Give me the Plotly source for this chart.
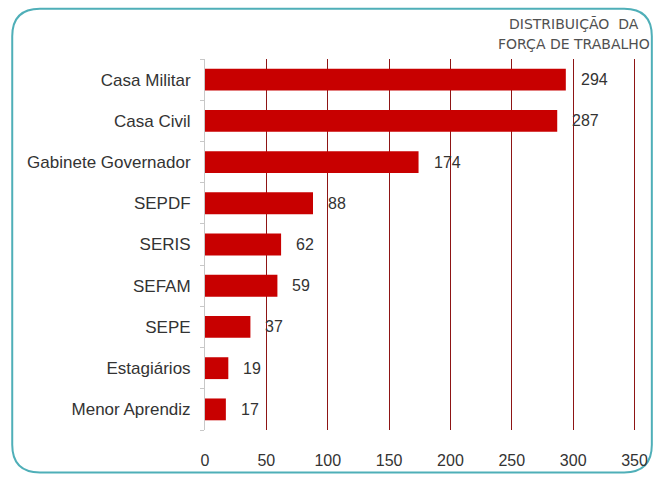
import plotly.graph_objects as go

categories = ["Casa Militar", "Casa Civil", "Gabinete Governador", "SEPDF", "SERIS",
              "SEFAM", "SEPE", "Estagiários", "Menor Aprendiz"]
values = [294, 287, 174, 88, 62, 59, 37, 19, 17]
x_ticks = [0, 50, 100, 150, 200, 250, 300, 350]
title_lines = ["DISTRIBUIÇÃO  DA", "FORÇA DE TRABALHO"]

W, H = 660, 481
L, R, T, B = 205, 18, 59, 46
PW, PH = W - L - R, H - T - B

def px(x):
    return (x - L) / PW

def py(y):
    return (H - B - y) / PH

fig = go.Figure()
fig.add_trace(go.Bar(
    y=categories, x=values, orientation="h",
    marker=dict(color="#C80000", line=dict(width=0)),
    width=0.53, hoverinfo="skip",
))

for c, v in zip(categories, values):
    fig.add_annotation(x=v, y=c, text=str(v), showarrow=False, xanchor="left",
                       xshift=13, font=dict(family="Liberation Sans, Arial", size=16, color="#333333"))

# title
for i, t in enumerate(title_lines):
    fig.add_annotation(x=px(578), y=py(24 + 20 * i), xref="paper", yref="paper", text=t,
                       showarrow=False, xanchor="center", yanchor="middle",
                       font=dict(family="DejaVu Sans", size=14, color="#505050"))

# rounded border
x0, x1, y0, y1, r = 10, 657, 8, 478, 28
path = (f"M {px(x0+r)} {py(y0)} L {px(x1-r)} {py(y0)} Q {px(x1)} {py(y0)} {px(x1)} {py(y0+r)} "
        f"L {px(x1)} {py(y1-r)} Q {px(x1)} {py(y1)} {px(x1-r)} {py(y1)} "
        f"L {px(x0+r)} {py(y1)} Q {px(x0)} {py(y1)} {px(x0)} {py(y1-r)} "
        f"L {px(x0)} {py(y0+r)} Q {px(x0)} {py(y0)} {px(x0+r)} {py(y0)} Z")
fig.add_shape(type="path", path=path, xref="paper", yref="paper",
              line=dict(color="#4FAFB8", width=2), layer="below")

fig.update_layout(
    width=W, height=H,
    margin=dict(l=L, r=R, t=T, b=B, pad=0),
    paper_bgcolor="white", plot_bgcolor="rgba(0,0,0,0)",
    showlegend=False,
    font=dict(family="Liberation Sans, Arial", size=16, color="#333333"),
)
fig.update_xaxes(range=[0, 352], tickvals=x_ticks, showgrid=True, gridcolor="#8E1515",
                 gridwidth=1.2, zeroline=False, showline=False, ticks="",
                 ticklabelstandoff=19, tickfont=dict(size=16, color="#333333"), fixedrange=True)
fig.update_yaxes(categoryorder="array", categoryarray=categories[::-1],
                 showline=True, linecolor="#C8C8C8", linewidth=1, ticks="outside", ticklen=4,
                 tickcolor="#C8C8C8", tickson="boundaries", ticklabelstandoff=10,
                 showgrid=False, zeroline=False, tickfont=dict(size=17, color="#333333"),
                 fixedrange=True)

fig.write_html("out.html", config={"displayModeBar": False},
               post_script="document.body.style.margin='0';")
